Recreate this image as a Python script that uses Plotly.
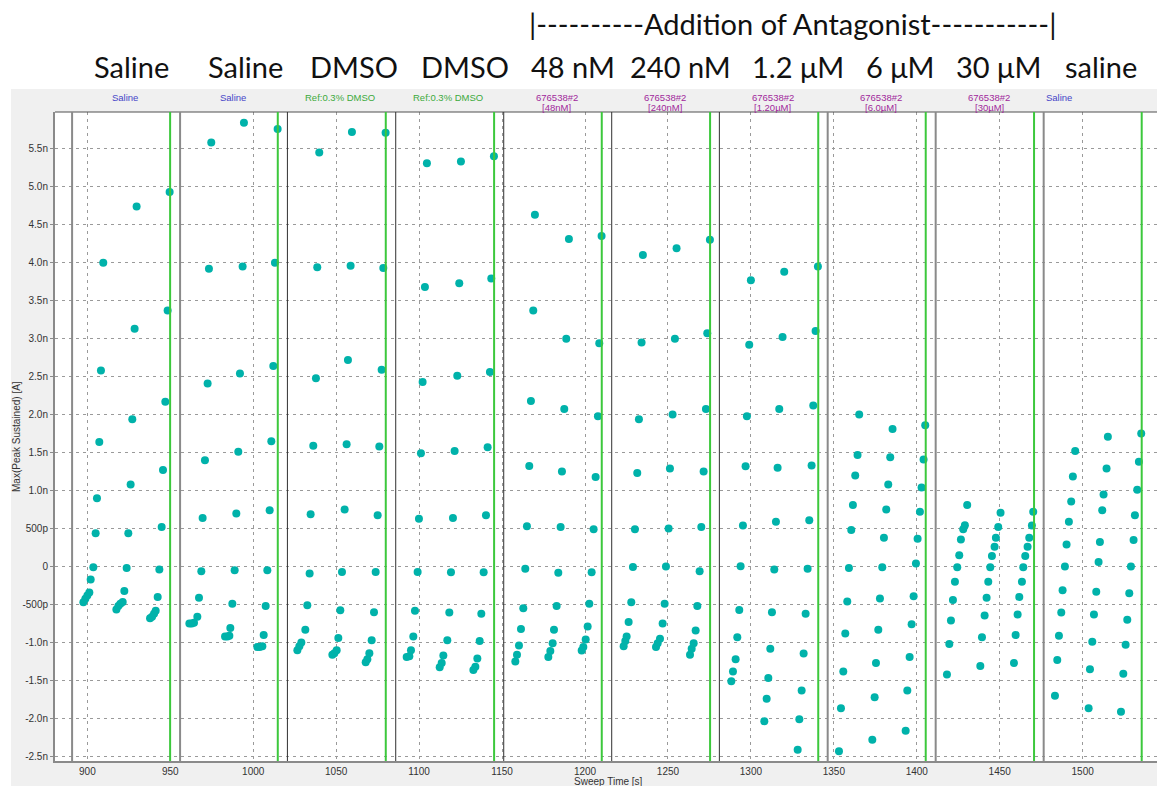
import plotly.graph_objects as go

# Peak sustained current per sweep: sweep times [s] and values [nA]
sweep_times = [
    [897.6, 898.8, 900.0, 901.2, 902.0, 903.6, 905.0, 905.8, 907.2, 908.2, 909.6],
    [917.5, 918.7, 919.9, 921.3, 922.3, 923.7, 924.7, 926.1, 927.1, 928.5, 929.7],
    [937.8, 939.0, 940.2, 941.2, 942.4, 943.4, 944.8, 945.6, 947.0, 948.4, 949.6],
    [961.5, 962.9, 964.3, 966.3, 967.3, 968.7, 969.5, 970.9, 972.5, 973.3, 974.7],
    [983.0, 984.4, 985.6, 986.2, 987.4, 988.8, 989.8, 991.0, 992.0, 993.6, 994.4],
    [1002.5, 1003.9, 1005.5, 1006.3, 1007.5, 1008.5, 1009.9, 1010.9, 1012.1, 1013.1, 1014.7],
    [1026.6, 1027.8, 1029.0, 1031.4, 1032.6, 1034.0, 1034.6, 1036.2, 1037.8, 1038.6, 1039.8],
    [1047.7, 1048.9, 1050.3, 1051.3, 1052.5, 1053.5, 1055.1, 1056.3, 1057.1, 1058.7, 1059.5],
    [1067.8, 1068.8, 1070.0, 1071.4, 1072.8, 1073.8, 1075.0, 1076.0, 1077.4, 1078.4, 1079.8],
    [1092.5, 1094.1, 1095.1, 1096.5, 1097.5, 1099.1, 1099.9, 1101.1, 1102.1, 1103.5, 1104.7],
    [1112.4, 1113.6, 1114.6, 1117.0, 1118.2, 1119.2, 1120.4, 1121.4, 1123.0, 1124.2, 1125.2],
    [1132.7, 1133.9, 1135.1, 1136.5, 1137.5, 1138.9, 1140.3, 1141.3, 1142.7, 1143.5, 1145.1],
    [1158.0, 1159.0, 1160.2, 1161.4, 1162.8, 1164.0, 1165.0, 1166.4, 1167.4, 1168.8, 1169.8],
    [1177.9, 1179.1, 1180.5, 1181.3, 1182.9, 1183.9, 1185.3, 1186.1, 1187.5, 1188.7, 1190.3],
    [1198.0, 1199.0, 1200.4, 1201.6, 1202.6, 1204.0, 1205.2, 1206.4, 1207.8, 1208.6, 1210.0],
    [1223.3, 1224.3, 1225.1, 1226.3, 1227.9, 1228.9, 1230.1, 1231.5, 1232.5, 1234.1, 1234.9],
    [1242.8, 1243.8, 1245.2, 1246.8, 1248.0, 1248.8, 1250.4, 1251.2, 1252.8, 1254.2, 1255.2],
    [1263.3, 1264.3, 1265.5, 1266.7, 1267.7, 1269.1, 1270.1, 1271.5, 1272.9, 1273.7, 1275.3],
    [1288.2, 1289.2, 1290.8, 1291.8, 1293.0, 1293.8, 1295.2, 1296.8, 1297.6, 1299.0, 1300.0],
    [1308.1, 1309.5, 1310.5, 1311.7, 1312.7, 1314.1, 1315.1, 1316.1, 1317.1, 1319.1, 1320.1],
    [1328.2, 1329.2, 1330.6, 1331.8, 1333.0, 1334.2, 1335.2, 1336.6, 1337.6, 1339.0, 1340.4],
    [1353.1, 1354.3, 1355.7, 1356.9, 1358.1, 1359.1, 1360.5, 1361.5, 1362.9, 1364.3, 1365.3],
    [1373.2, 1374.6, 1375.4, 1376.8, 1377.8, 1379.2, 1380.2, 1381.6, 1382.8, 1384.0, 1385.4],
    [1393.3, 1394.3, 1395.7, 1396.9, 1398.1, 1399.5, 1400.5, 1401.9, 1402.9, 1404.1, 1405.1],
    [1418.2, 1419.6, 1420.6, 1421.8, 1423.0, 1424.4, 1425.6, 1426.6, 1428.0, 1429.0, 1430.4],
    [1438.3, 1439.3, 1440.9, 1442.1, 1443.1, 1444.3, 1445.3, 1446.9, 1447.7, 1449.1, 1450.5],
    [1458.6, 1459.6, 1460.8, 1461.8, 1463.4, 1464.2, 1465.4, 1466.8, 1467.8, 1469.4, 1470.2],
    [1483.3, 1484.7, 1485.7, 1487.1, 1487.9, 1489.3, 1490.3, 1491.7, 1493.1, 1494.1, 1495.5],
    [1503.6, 1504.4, 1505.8, 1506.8, 1508.2, 1509.6, 1510.4, 1511.8, 1512.6, 1514.4, 1515.2],
    [1523.1, 1524.5, 1525.9, 1526.9, 1528.1, 1529.1, 1530.7, 1531.5, 1532.9, 1533.9, 1535.3],
]

sweep_peak_na = [
    [-0.47, -0.425, -0.38, -0.34, -0.17, -0.01, 0.44, 0.90, 1.64, 2.58, 4.00],
    [-0.565, -0.52, -0.49, -0.465, -0.32, -0.02, 0.44, 1.08, 1.94, 3.13, 4.74],
    [-0.68, -0.66, -0.62, -0.58, -0.40, -0.04, 0.52, 1.27, 2.17, 3.37, 4.93],
    [-0.75, -0.75, -0.74, -0.66, -0.41, -0.06, 0.64, 1.40, 2.41, 3.92, 5.58],
    [-0.92, -0.92, -0.91, -0.81, -0.49, -0.05, 0.70, 1.51, 2.54, 3.95, 5.84],
    [-1.06, -1.06, -1.05, -0.90, -0.52, -0.05, 0.74, 1.65, 2.64, 4.00, 5.76],
    [-1.10, -1.05, -1.00, -0.83, -0.51, -0.09, 0.69, 1.59, 2.48, 3.94, 5.45],
    [-1.16, -1.14, -1.10, -0.94, -0.575, -0.07, 0.75, 1.61, 2.72, 3.96, 5.72],
    [-1.26, -1.22, -1.14, -0.97, -0.60, -0.07, 0.675, 1.58, 2.59, 3.93, 5.71],
    [-1.19, -1.18, -1.10, -0.92, -0.58, -0.07, 0.63, 1.49, 2.43, 3.68, 5.31],
    [-1.325, -1.27, -1.17, -0.97, -0.605, -0.075, 0.64, 1.52, 2.51, 3.73, 5.33],
    [-1.36, -1.32, -1.21, -0.98, -0.62, -0.075, 0.675, 1.57, 2.56, 3.79, 5.40],
    [-1.25, -1.16, -1.04, -0.82, -0.55, -0.03, 0.53, 1.325, 2.18, 3.37, 4.63],
    [-1.19, -1.11, -1.01, -0.83, -0.52, -0.08, 0.52, 1.25, 2.075, 3.00, 4.31],
    [-1.105, -1.06, -0.96, -0.79, -0.49, -0.075, 0.49, 1.18, 1.98, 2.94, 4.35],
    [-1.05, -0.98, -0.92, -0.73, -0.47, -0.005, 0.49, 1.23, 1.94, 2.95, 4.10],
    [-1.06, -1.01, -0.95, -0.75, -0.49, 0.00, 0.50, 1.29, 2.00, 3.00, 4.19],
    [-1.16, -1.08, -1.01, -0.84, -0.52, -0.06, 0.52, 1.25, 2.075, 3.07, 4.30],
    [-1.51, -1.38, -1.22, -0.93, -0.57, 0.005, 0.54, 1.32, 1.98, 2.92, 3.77],
    [-2.035, -1.74, -1.465, -1.08, -0.60, -0.04, 0.59, 1.30, 2.075, 3.02, 3.88],
    [-2.41, -2.01, -1.63, -1.145, -0.62, -0.03, 0.61, 1.33, 2.12, 3.10, 3.95],
    [-2.43, -1.865, -1.38, -0.88, -0.46, -0.02, 0.48, 0.81, 1.20, 1.47, 2.00],
    [-2.28, -1.72, -1.27, -0.83, -0.42, -0.01, 0.38, 0.75, 1.08, 1.44, 1.81],
    [-2.16, -1.63, -1.19, -0.76, -0.39, 0.04, 0.365, 0.72, 1.04, 1.41, 1.86],
    [-1.42, -1.02, -0.71, -0.44, -0.20, -0.01, 0.15, 0.355, 0.49, 0.545, 0.81],
    [-1.31, -0.93, -0.645, -0.41, -0.20, -0.01, 0.14, 0.26, 0.38, 0.52, 0.71],
    [-1.27, -0.90, -0.63, -0.40, -0.20, -0.01, 0.14, 0.26, 0.38, 0.54, 0.72],
    [-1.70, -1.23, -0.91, -0.605, -0.31, 0.00, 0.29, 0.59, 0.855, 1.185, 1.52],
    [-1.865, -1.35, -0.99, -0.63, -0.33, 0.06, 0.325, 0.74, 0.95, 1.29, 1.71],
    [-1.91, -1.41, -1.03, -0.70, -0.35, 0.00, 0.35, 0.675, 1.01, 1.38, 1.75],
]

# Compound-period boundaries and tag marks [s]
boundary_times = [890.8, 955.9, 1020.6, 1085.9, 1151.0, 1216.1, 1281.0, 1346.3, 1411.4, 1476.5]
tag_times = [949.9, 1014.8, 1079.9, 1145.2, 1210.1, 1275.4, 1340.6, 1405.4, 1470.7, 1535.6]

# Compound header per period
header_times = [922.7, 987.6, 1052.3, 1117.6, 1183.0, 1248.2, 1313.2, 1378.5, 1443.6, 1485.8]
header_line1 = ["Saline", "Saline", "Ref:0.3% DMSO", "Ref:0.3% DMSO", "676538#2", "676538#2",
                "676538#2", "676538#2", "676538#2", "Saline"]
header_line2 = ["", "", "", "", "[48nM]", "[240nM]", "[1.20µM]", "[6.0µM]", "[30µM]", ""]

# Condition captions above the chart
condition_labels = ["Saline", "Saline", "DMSO", "DMSO", "48 nM", "240 nM", "1.2 μM", "6 μM", "30 μM", "saline"]
antagonist_caption = "|----------Addition of Antagonist-----------|"

y_tick_values = [-2.5, -2.0, -1.5, -1.0, -0.5, 0.0, 0.5, 1.0, 1.5, 2.0, 2.5, 3.0, 3.5, 4.0, 4.5, 5.0, 5.5]
y_tick_labels = ["-2.5n", "-2.0n", "-1.5n", "-1.0n", "-500p", "0", "500p", "1.0n", "1.5n", "2.0n",
                 "2.5n", "3.0n", "3.5n", "4.0n", "4.5n", "5.0n", "5.5n"]

# ---- figure geometry (pixels) ----
W, H = 1157, 786
L, R, T, B = 55, 0, 112, 25
PW, PH = W - L - R, H - T - B


def px_x(px):
    return (px - L) / PW


def px_y(py):
    return (H - B - py) / PH


all_t = [t for sweep in sweep_times for t in sweep]
all_i = [i for sweep in sweep_peak_na for i in sweep]

fig = go.Figure()
fig.add_trace(go.Scatter(
    x=all_t, y=all_i, mode="markers",
    marker=dict(color="#00b2aa", size=8, line=dict(width=0)),
    showlegend=False, hoverinfo="x+y",
))

shapes = []
# white surround outside the grey chart panel
shapes.append(dict(type="rect", xref="paper", yref="paper", x0=-0.1, x1=1.1,
                   y0=px_y(89), y1=1.3, fillcolor="white", line_width=0, layer="below"))
shapes.append(dict(type="rect", xref="paper", yref="paper", x0=-0.1, x1=px_x(11),
                   y0=-0.1, y1=1.3, fillcolor="white", line_width=0, layer="below"))
# top frame of the plot area
shapes.append(dict(type="line", xref="paper", yref="paper", x0=0, x1=1, y0=1, y1=1,
                   line=dict(color="#505050", width=1)))

light_edges = {0, 1, 7, 8, 9}
for k, t in enumerate(boundary_times):
    if k in light_edges:
        ln = dict(color="#8a8a8a", width=2)
    else:
        ln = dict(color="#303030", width=1)
    shapes.append(dict(type="line", xref="x", yref="paper", x0=t, x1=t, y0=0, y1=1, line=ln))
for t in tag_times:
    shapes.append(dict(type="line", xref="x", yref="paper", x0=t, x1=t, y0=0, y1=1,
                       line=dict(color="#3cc83c", width=2)))

annotations = []
header_colors = {"Saline": "#4646c8", "Ref:0.3% DMSO": "#3caa3c"}
for t, l1, l2 in zip(header_times, header_line1, header_line2):
    col = header_colors.get(l1, "#a0289b")
    annotations.append(dict(x=t, xref="x", y=px_y(97.5), yref="paper", text=l1, showarrow=False,
                            xanchor="center", yanchor="middle",
                            font=dict(family="Liberation Sans, Arial", size=9.5, color=col)))
    if l2:
        annotations.append(dict(x=t, xref="x", y=px_y(107), yref="paper", text=l2, showarrow=False,
                                xanchor="center", yanchor="middle",
                                font=dict(family="Liberation Sans, Arial", size=9.5, color=col)))

caption_px = [131.7, 245.5, 353.8, 465.3, 572.5, 680.0, 797.8, 900.0, 998.5, 1101.0]
big_font = dict(family="Lato, Carlito, sans-serif", size=29, color="#111111")
for cx, lab in zip(caption_px, condition_labels):
    annotations.append(dict(x=px_x(cx), xref="paper", y=px_y(66), yref="paper", text=lab,
                            showarrow=False, xanchor="center", yanchor="middle", font=big_font))
annotations.append(dict(x=px_x(792), xref="paper", y=px_y(24), yref="paper", text=antagonist_caption,
                        showarrow=False, xanchor="center", yanchor="middle", font=big_font))

axis_font = dict(family="Liberation Sans, Arial", size=10, color="#333333")
annotations.append(dict(x=px_x(16), xref="paper", y=px_y(437), yref="paper",
                        text="Max(Peak Sustained) [A]", textangle=-90, showarrow=False,
                        xanchor="center", yanchor="middle", font=axis_font))
annotations.append(dict(x=px_x(608), xref="paper", y=px_y(778), yref="paper",
                        text="Sweep Time [s]", showarrow=False,
                        xanchor="center", yanchor="bottom", yshift=-11, font=axis_font))

common = dict(showgrid=True, gridcolor="#9a9a9a", gridwidth=1, griddash="3px,4px",
              zeroline=False, showline=True, linecolor="#8a8a8a", linewidth=2,
              tickfont=axis_font, automargin=False)

fig.update_layout(
    width=W, height=H, autosize=False,
    margin=dict(l=L, r=R, t=T, b=B, pad=0),
    paper_bgcolor="#f0f0f0", plot_bgcolor="white",
    xaxis=dict(range=[880.5, 900 + (W - 87.3) * 0.6028], tick0=900, dtick=50,
               ticks="", **common),
    yaxis=dict(range=[-2.559, 5.983], tickvals=y_tick_values, ticktext=y_tick_labels,
               ticks="outside", ticklen=3, tickcolor="#8a8a8a", **common),
    shapes=shapes, annotations=annotations,
)

fig.write_html("out.html")
